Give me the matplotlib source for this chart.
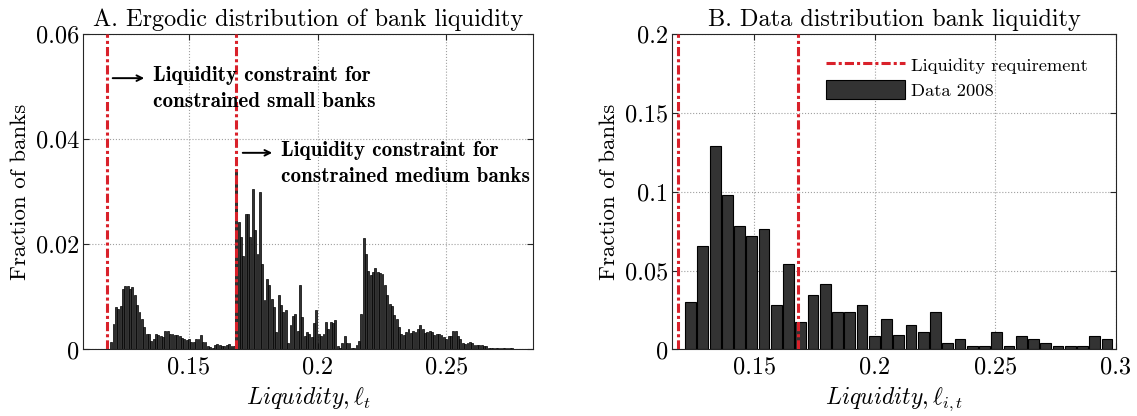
import matplotlib.pyplot as plt
import numpy as np
from matplotlib.lines import Line2D
from matplotlib.patches import Patch

# ===== data =====
# panel A: ergodic distribution (171 narrow bins)
ERGODIC_START = 0.11933
ERGODIC_END = 0.27600
ergodic_frac = [
    0.0015, 0.0049, 0.0080, 0.0077, 0.0082, 0.0115, 0.0120, 0.0120, 0.0115, 0.0118,
    0.0103, 0.0084, 0.0071, 0.0058, 0.0042, 0.0030, 0.0029, 0.0017, 0.0020, 0.0030,
    0.0027, 0.0025, 0.0023, 0.0036, 0.0036, 0.0030, 0.0029, 0.0028, 0.0027, 0.0025,
    0.0022, 0.0020,
    0.0018, 0.0019, 0.0014, 0.0014, 0.0019, 0.0020, 0.0028, 0.0015, 0.0015, 0.0006,
    0.0004, 0.0003, 0.0008, 0.0011, 0.0008, 0.0007, 0.0007, 0.0008, 0.0010, 0.0007,
    0.0006,
    0.0343,
    0.0242, 0.0213, 0.0177, 0.0257, 0.0257, 0.0213, 0.0305, 0.0227, 0.0182, 0.0299,
    0.0163, 0.0094, 0.0134,
    0.0123, 0.0096, 0.0080, 0.0033, 0.0103, 0.0084, 0.0071, 0.0075, 0.0012, 0.0046,
    0.0063, 0.0068, 0.0036, 0.0123, 0.0061, 0.0025, 0.0033, 0.0030, 0.0023, 0.0050,
    0.0075, 0.0030, 0.0025, 0.0029, 0.0052, 0.0039, 0.0053, 0.0050, 0.0056, 0.0006,
    0.0003, 0.0012, 0.0025, 0.0012, 0.0012,
    0.0003, 0.0003, 0.0008, 0.0017, 0.0068, 0.0212, 0.0182, 0.0150, 0.0141, 0.0148,
    0.0155, 0.0148, 0.0146, 0.0144, 0.0122, 0.0103, 0.0086, 0.0082, 0.0065, 0.0058,
    0.0042, 0.0030, 0.0028, 0.0033, 0.0039, 0.0032, 0.0036, 0.0033, 0.0039, 0.0047,
    0.0039, 0.0031, 0.0033, 0.0035, 0.0033,
    0.0027, 0.0030, 0.0029, 0.0027, 0.0023, 0.0020, 0.0025, 0.0025, 0.0035, 0.0036,
    0.0025, 0.0020, 0.0012, 0.0010, 0.0012, 0.0014, 0.0012, 0.0009, 0.0008, 0.0008,
    0.0008, 0.0007, 0.0006, 0.0003, 0.0003, 0.0003, 0.0003, 0.0003, 0.0003, 0.0003,
    0.0003, 0.0003, 0.0003, 0.0002,
]

# panel B: data 2008 (35 bins)
DATA_START = 0.1210
DATA_END = 0.2988
data_frac = [
    0.0304, 0.0654, 0.1287, 0.0981, 0.0785, 0.0720, 0.0762, 0.0283, 0.0544, 0.0173,
    0.0348, 0.0413, 0.0239, 0.0239, 0.0283, 0.0087, 0.0194, 0.0091, 0.0154, 0.0112,
    0.0239, 0.0044, 0.0065, 0.0023, 0.0023, 0.0110, 0.0023, 0.0088, 0.0065, 0.0044,
    0.0023, 0.0023, 0.0023, 0.0088, 0.0065,
]

# liquidity requirements (small / medium banks)
requirements = [0.1181, 0.1682]

RED = "#d9212a"
BAR = "#333333"
DASHDOT = (0, (3, 1, 1, 1))

plt.rcParams["font.family"] = "cmr10"
plt.rcParams["mathtext.fontset"] = "cm"
plt.rcParams["axes.formatter.use_mathtext"] = True


def bins(start, end, n):
    edges = np.linspace(start, end, n + 1)
    return (edges[:-1] + edges[1:]) / 2, edges[1] - edges[0]


def style_axes(ax, xticks, xlabels, yticks, ylabels):
    ax.set_xticks(xticks)
    ax.set_xticklabels(xlabels)
    ax.set_yticks(yticks)
    ax.set_yticklabels(ylabels)
    ax.tick_params(direction="in", length=4, width=0.8, labelsize=17.5,
                   top=True, right=True, colors="#262626")
    ax.tick_params(axis="x", pad=5)
    ax.tick_params(axis="y", pad=2.5)
    ax.tick_params(labelcolor="black")
    for s in ax.spines.values():
        s.set_color("#262626")
        s.set_linewidth(0.8)
    ax.grid(True, linestyle=":", color="#a0a0a0", linewidth=0.8)
    ax.set_axisbelow(True)
    ax.set_ylabel("Fraction of banks", fontsize=16.5, labelpad=4.5)


fig = plt.figure(figsize=(11.37, 4.16), dpi=100)
ax1 = fig.add_axes([0.0730, 0.1599, 0.3958, 0.7584])
ax2 = fig.add_axes([0.5910, 0.1599, 0.3905, 0.7584])

# ---- panel A ----
x, w = bins(ERGODIC_START, ERGODIC_END, len(ergodic_frac))
ax1.bar(x, ergodic_frac, width=w * 0.8, color=BAR, edgecolor="black", linewidth=0.5, zorder=2)
for r in requirements:
    ax1.axvline(r, color=RED, linewidth=2.2, linestyle=DASHDOT, zorder=3)
ax1.set_xlim(0.10885, 0.2836)
ax1.set_ylim(0, 0.06)
style_axes(ax1, [0.15, 0.2, 0.25], ["0.15", "0.2", "0.25"],
           [0, 0.02, 0.04, 0.06], ["0", "0.02", "0.04", "0.06"])
ax1.set_title("A. Ergodic distribution of bank liquidity", fontsize=17.5, pad=6)
ax1.set_xlabel(r"$Liquidity, \ell_t$", fontsize=17, labelpad=5)

ax1.annotate("", xy=(0.1337, 0.0516), xytext=(0.1193, 0.0516),
             arrowprops=dict(arrowstyle="->", color="black", lw=1.4))
ax1.text(0.1360, 0.0496, "Liquidity constraint for\nconstrained small banks",
         family="cmb10", fontsize=15.2, va="center", ha="left", linespacing=1.45)
ax1.annotate("", xy=(0.1834, 0.0374), xytext=(0.1698, 0.0374),
             arrowprops=dict(arrowstyle="->", color="black", lw=1.4))
ax1.text(0.1857, 0.0354, "Liquidity constraint for\nconstrained medium banks",
         family="cmb10", fontsize=15.2, va="center", ha="left", linespacing=1.45)

# ---- panel B ----
x, w = bins(DATA_START, DATA_END, len(data_frac))
ax2.bar(x, data_frac, width=w * 0.88, color=BAR, edgecolor="black", linewidth=0.8, zorder=2)
for r in requirements:
    ax2.axvline(r, color=RED, linewidth=2.2, linestyle=DASHDOT, zorder=3)
ax2.set_xlim(0.1158, 0.3)
ax2.set_ylim(0, 0.2)
style_axes(ax2, [0.15, 0.2, 0.25, 0.3], ["0.15", "0.2", "0.25", "0.3"],
           [0, 0.05, 0.1, 0.15, 0.2], ["0", "0.05", "0.1", "0.15", "0.2"])
ax2.set_title("B. Data distribution bank liquidity", fontsize=17.5, pad=6)
ax2.set_xlabel(r"$Liquidity, \ell_{i,t}$", fontsize=17, labelpad=5)

handles = [
    Line2D([], [], color=RED, linewidth=2.2, linestyle=DASHDOT),
    Patch(facecolor=BAR, edgecolor="black", linewidth=0.8),
]
ax2.legend(handles, ["Liquidity requirement", "Data 2008"], loc="upper left",
           bbox_to_anchor=(0.33, 0.955), frameon=False, fontsize=13.3,
           handlelength=4.3, handleheight=1.2, handletextpad=0.3, labelspacing=0.3,
           borderaxespad=0)

fig.savefig("out.png", dpi=100)
